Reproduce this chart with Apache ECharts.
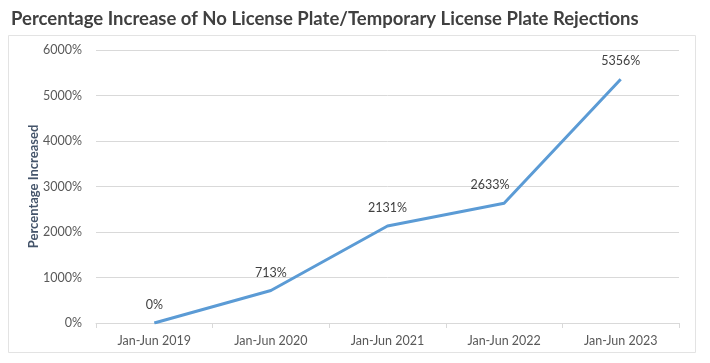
<!DOCTYPE html>
<html><head><meta charset="utf-8">
<script src="https://cdn.jsdelivr.net/npm/echarts@6/dist/echarts.min.js"></script>
<style>html,body{margin:0;padding:0;background:#fff}#c{width:710px;height:363px}</style>
</head><body><div id="c"></div>
<script>
const categories = ['Jan-Jun 2019','Jan-Jun 2020','Jan-Jun 2021','Jan-Jun 2022','Jan-Jun 2023'];
const values = [0, 713, 2131, 2633, 5356];
const yTicks = [0, 1000, 2000, 3000, 4000, 5000, 6000];

const seriesData = values.map(function(v, i){
  const d = {value: v};
  if (i === 3) d.label = {offset: [-14, 0]};
  return d;
});

const chart = echarts.init(document.getElementById('c'), null, {renderer:'canvas'});
chart.setOption({
  animation: false,
  backgroundColor: '#fff',
  title: {
    text: 'Percentage Increase of No License Plate/Temporary License Plate Rejections',
    left: 6, top: 5,
    textStyle: {fontFamily: 'Lato', fontWeight: 'bold', fontSize: 18.5, color: '#404040'}
  },
  graphic: [{
    type: 'rect', shape: {x: 8.5, y: 35.5, width: 687, height: 317},
    style: {fill: 'none', stroke: '#e3e3e3', lineWidth: 1}, z: -1
  }],
  grid: {left: 96, right: 31, top: 50, bottom: 40, containLabel: false},
  xAxis: {
    type: 'category', data: categories, boundaryGap: true,
    axisLine: {lineStyle: {color: '#d9d9d9'}},
    axisTick: {show: true, length: 5, lineStyle: {color: '#d9d9d9'}},
    axisLabel: {color: '#595959', fontSize: 12.5, fontFamily: 'Lato', margin: 11}
  },
  yAxis: {
    type: 'value', min: yTicks[0], max: yTicks[yTicks.length-1], interval: 1000,
    name: 'Percentage Increased', nameLocation: 'middle', nameGap: 56, nameRotate: 90,
    nameMoveOverlap: false,
    nameTextStyle: {color: '#44546A', fontWeight: 'bold', fontSize: 13, fontFamily: 'Lato'},
    axisLine: {show: false}, axisTick: {show: false},
    splitLine: {lineStyle: {color: '#d9d9d9'}},
    axisLabel: {color: '#595959', fontSize: 12.5, fontFamily: 'Lato', margin: 14,
      formatter: function(v){ return v + '%'; }}
  },
  series: [{
    type: 'line', data: seriesData, symbol: 'circle', symbolSize: 1, showSymbol: true,
    itemStyle: {color: 'rgba(91,155,213,0)', borderWidth: 0},
    lineStyle: {color: '#5B9BD5', width: 3},
    label: {show: true, position: 'top', distance: 11,
      formatter: function(p){ return p.value + '%'; },
      color: '#404040', fontSize: 12.5, fontFamily: 'Lato'}
  }]
});
</script></body></html>
